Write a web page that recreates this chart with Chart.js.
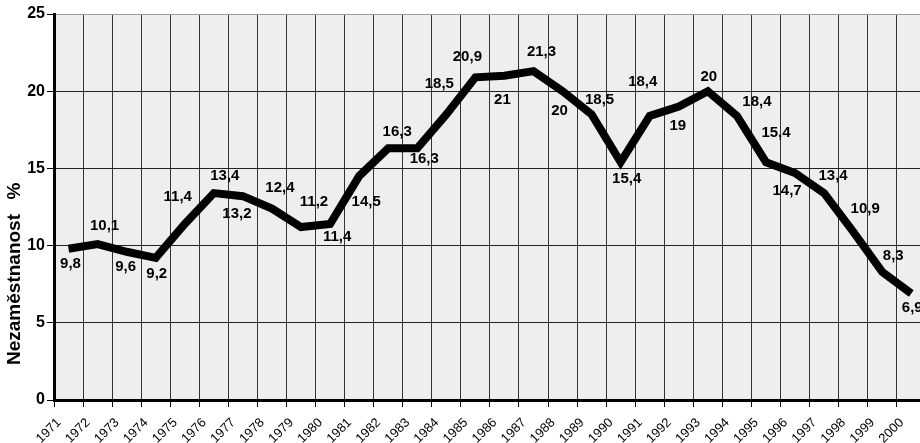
<!DOCTYPE html>
<html>
<head>
<meta charset="utf-8">
<script src="https://cdn.jsdelivr.net/npm/chart.js@4.4.0/dist/chart.umd.min.js"></script>
<style>
html, body { margin: 0; padding: 0; background: #fff; }
#wrap { width: 920px; height: 443px; }
</style>
</head>
<body>
<div id="wrap"><canvas id="unemploymentChart"></canvas></div>
<script>
// data
var years = ['1971','1972','1973','1974','1975','1976','1977','1978','1979','1980',
             '1981','1982','1983','1984','1985','1986','1987','1988','1989','1990',
             '1991','1992','1993','1994','1995','1996','1997','1998','1999','2000'];
var rates = [9.8, 10.1, 9.6, 9.2, 11.4, 13.4, 13.2, 12.4, 11.2, 11.4,
             14.5, 16.3, 16.3, 18.5, 20.9, 21, 21.3, 20, 18.5, 15.4,
             18.4, 19, 20, 18.4, 15.4, 14.7, 13.4, 10.9, 8.3, 6.9];
var yTicks = [0, 5, 10, 15, 20, 25];

// where each value label sits relative to its point (dx, dy)
var labelOffsets = [
    [2,15], [7,-18], [-1,15], [1,16], [-7,-27], [11,-17], [-6,18], [8,-21], [13,-25], [7,13],
    [7,26], [9,-16], [7,11], [-7,-31], [-8,-20], [-2,24], [8,-19], [-3,20], [8,-15], [6,17],
    [-7,-34], [-1,19], [1,-14], [20,-14], [10,-29], [-8,18], [9,-17], [12,-23], [11,-16], [1,14]
];

// points sit in the middle of each year's column, the year label on its left line
var points = rates.map(function(v, i){ return { x: i + 0.5, y: v }; });

var plotBackground = {
    id: 'plotBackground',
    beforeDraw: function(chart){
        var a = chart.chartArea, ctx = chart.ctx;
        ctx.save();
        ctx.fillStyle = '#eeeeee';
        ctx.fillRect(a.left, a.top, a.right - a.left, a.bottom - a.top);
        ctx.restore();
    }
};

var valueLabels = {
    id: 'valueLabels',
    afterDatasetsDraw: function(chart){
        var ctx = chart.ctx;
        var meta = chart.getDatasetMeta(0);
        ctx.save();
        ctx.font = 'bold 15px "Liberation Sans", Arial, sans-serif';
        ctx.fillStyle = '#000';
        ctx.textAlign = 'center';
        ctx.textBaseline = 'middle';
        meta.data.forEach(function(pt, i){
            var off = labelOffsets[i];
            ctx.fillText(String(rates[i]).replace('.', ','), pt.x + off[0], pt.y + off[1]);
        });
        ctx.restore();
    }
};

var yTitle = {
    id: 'yTitle',
    afterDraw: function(chart){
        var ctx = chart.ctx;
        ctx.save();
        ctx.translate(15, 365);
        ctx.rotate(-Math.PI / 2);
        ctx.font = 'bold 19px "Liberation Sans", Arial, sans-serif';
        ctx.fillStyle = '#000';
        ctx.textBaseline = 'middle';
        ctx.textAlign = 'left';
        ctx.fillText('Nezaměstnanost', 0, 0);
        ctx.textAlign = 'center';
        ctx.fillText('%', 174, 0);
        ctx.restore();
    }
};

var ctx = document.getElementById('unemploymentChart').getContext('2d');
var unemploymentChart = new Chart(ctx, {
    type: 'line',
    data: {
        datasets: [{
            data: points,
            borderColor: '#000',
            borderWidth: 8,
            borderJoinStyle: 'miter',
            borderCapStyle: 'butt',
            pointRadius: 0,
            tension: 0,
            fill: false,
            clip: false
        }]
    },
    options: {
        responsive: true,
        maintainAspectRatio: false,
        animation: false,
        layout: { padding: { top: 14, left: 0, right: 0, bottom: 0 } },
        plugins: {
            legend: { display: false },
            tooltip: { enabled: false }
        },
        scales: {
            x: {
                type: 'linear',
                min: 0,
                max: 29.8,
                afterBuildTicks: function(axis){
                    axis.ticks = years.map(function(y, i){ return { value: i }; });
                },
                afterFit: function(axis){ axis.height = 43; },
                ticks: {
                    autoSkip: false,
                    maxRotation: 45,
                    minRotation: 45,
                    padding: 8,
                    labelOffset: 5,
                    color: '#000',
                    font: { family: '"Liberation Sans", Arial, sans-serif', size: 13 },
                    callback: function(value){ return years[value]; }
                },
                grid: {
                    color: '#333',
                    lineWidth: 1,
                    tickLength: 7,
                    tickColor: '#000'
                },
                border: { display: true, color: '#000', width: 3 }
            },
            y: {
                min: 0,
                max: 25,
                afterBuildTicks: function(axis){
                    axis.ticks = yTicks.map(function(v){ return { value: v }; });
                },
                afterFit: function(axis){ axis.width = 54; },
                ticks: {
                    padding: 2,
                    color: '#000',
                    font: { family: '"Liberation Sans", Arial, sans-serif', size: 16, weight: 'bold' }
                },
                grid: {
                    color: function(c){ return c.tick && c.tick.value === 25 ? '#999' : '#222'; },
                    lineWidth: 1,
                    tickLength: 7,
                    tickColor: '#000'
                },
                border: { display: true, color: '#000', width: 3 }
            }
        }
    },
    plugins: [plotBackground, valueLabels, yTitle]
});
</script>
</body>
</html>
